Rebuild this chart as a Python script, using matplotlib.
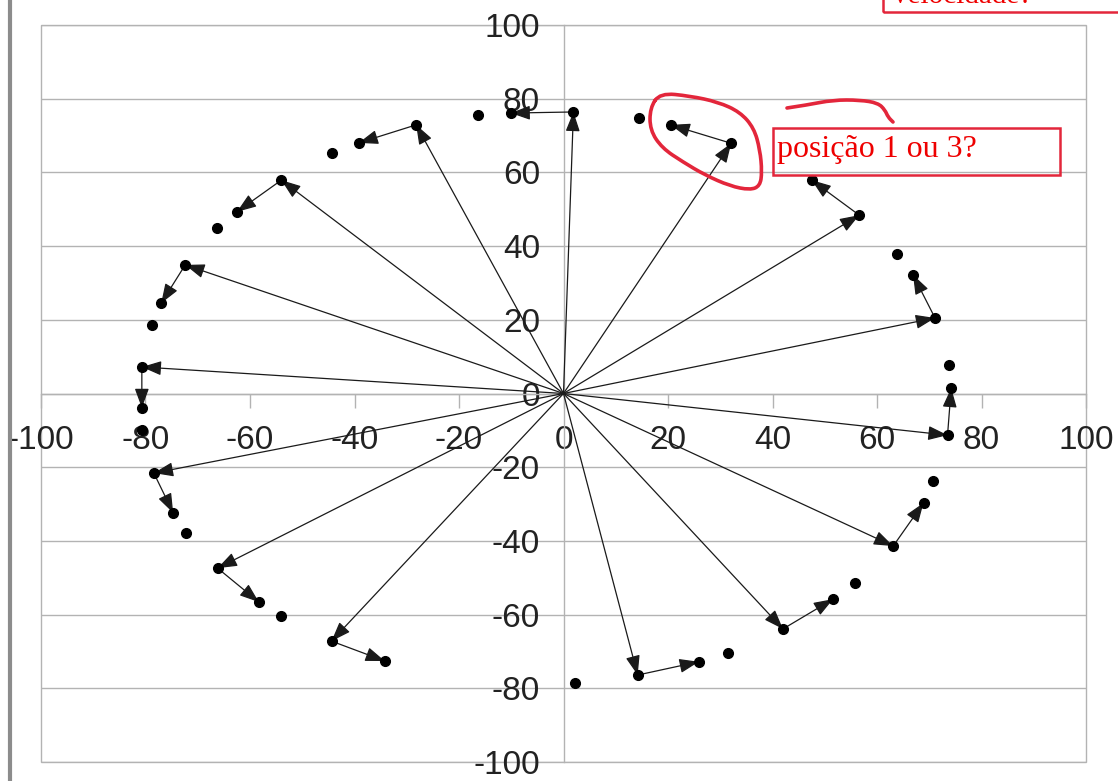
import numpy as np
import matplotlib
matplotlib.use("Agg")
import matplotlib.pyplot as plt
from matplotlib.patches import Rectangle, PathPatch
from matplotlib.path import Path
from matplotlib.lines import Line2D

# position vectors (tip of the arrows drawn from the origin)
pos_x = [73.5, 71.1, 56.6, 32.1, 1.9, -28.2, -54.0, -72.4, -80.7, -78.4, -66.2, -44.4, 14.2, 42.0, 63.1]
pos_y = [-11.3, 20.5, 48.4, 67.9, 76.4, 72.9, 57.9, 34.9, 7.2, -21.6, -47.4, -67.2, -76.4, -63.9, -41.4]

# next position (tip of the short "velocity" arrows)
vel_x = [74.2, 66.9, 47.5, 20.5, -10.1, -39.2, -62.5, -77.0, -80.7, -74.7, -58.3, -34.2, 25.9, 51.6, 68.9]
vel_y = [1.5, 32.2, 57.9, 72.9, 76.1, 68.0, 49.3, 24.5, -3.9, -32.4, -56.6, -72.6, -72.8, -55.8, -29.7]

# remaining orbit points
extra_x = [73.8, 63.8, 14.4, -16.4, -44.4, -66.3, -78.8, -80.7, -72.2, -54.0, 2.2, 31.5, 55.8, 70.7]
extra_y = [7.7, 37.9, 74.7, 75.6, 65.2, 44.9, 18.6, -9.9, -37.9, -60.4, -78.6, -70.4, -51.4, -23.7]

ticks = [-100, -80, -60, -40, -20, 0, 20, 40, 60, 80, 100]

W, H = 1118, 781
fig = plt.figure(figsize=(W / 100, H / 100), dpi=100)
ax = fig.add_axes([41 / W, 1 - 762 / H, (1086 - 41) / W, (762 - 25) / H])

grid_c = '#b3b3b3'
ax.set_xlim(-100, 100)
ax.set_ylim(-100, 100)
ax.set_xticks(ticks)
ax.set_yticks(ticks)
ax.set_xticklabels([str(t) for t in ticks])
ax.set_yticklabels([str(t) for t in ticks])

for s in ['top', 'right']:
    ax.spines[s].set_visible(False)
ax.spines['left'].set_position(('data', 0))
ax.spines['bottom'].set_position(('data', 0))
for s in ['left', 'bottom']:
    ax.spines[s].set_color(grid_c)
    ax.spines[s].set_linewidth(1.0)
ax.add_patch(Rectangle((0, 0), 1, 1, transform=ax.transAxes, fill=False,
                       ec=grid_c, lw=1.0, clip_on=False, zorder=0.5))

ax.yaxis.grid(True, color=grid_c, lw=1.0, zorder=0)
ax.set_axisbelow(True)
ax.tick_params(axis='x', direction='out', length=10, width=1.0, color=grid_c,
               pad=13, labelsize=24, labelcolor='#222222')
ax.tick_params(axis='y', length=0, pad=17, labelsize=24, labelcolor='#222222')
for lab in ax.get_xticklabels() + ax.get_yticklabels():
    lab.set_fontfamily('Liberation Sans')

arrow_kw = dict(arrowstyle='-|>,head_length=0.6,head_width=0.22', color='#1a1a1a',
                lw=0.9, shrinkA=0, shrinkB=0, mutation_scale=20)

# arrows from the origin
for x, y in zip(pos_x, pos_y):
    ax.annotate('', xy=(x, y), xytext=(0, 0), arrowprops=arrow_kw, zorder=3)

# short arrows between consecutive positions
for x0, y0, x1, y1 in zip(pos_x, pos_y, vel_x, vel_y):
    ax.annotate('', xy=(x1, y1), xytext=(x0, y0), arrowprops=arrow_kw, zorder=3)

ax.plot(pos_x + vel_x + extra_x, pos_y + vel_y + extra_y, 'o', color='black',
        markersize=7, zorder=4, clip_on=False)

# ---- hand-made annotations on top of the screenshot ----
red = '#e3263b'

def px(x, y):
    return (x / W, 1 - y / H)

# window edge on the left
fig.add_artist(Line2D([9.5 / W, 9.5 / W], [0, 1], color='#8c8c8c', lw=3, transform=fig.transFigure))

# drawn loop around the questioned point (smooth closed curve)
loop = [(660, 93), (690, 96), (718, 102), (740, 112), (754, 128), (760, 150), (762, 172),
        (760, 186), (750, 190), (730, 186), (705, 175), (683, 162), (662, 148),
        (650, 130), (650, 108)]
n = len(loop)
mids = [((loop[i][0] + loop[(i + 1) % n][0]) / 2, (loop[i][1] + loop[(i + 1) % n][1]) / 2) for i in range(n)]
verts = [px(*mids[-1])]
codes = [Path.MOVETO]
for i in range(n):
    verts += [px(*loop[i]), px(*mids[i])]
    codes += [Path.CURVE3, Path.CURVE3]
fig.add_artist(PathPatch(Path(verts, codes), fill=False, ec=red, lw=2.6,
                         transform=fig.transFigure, capstyle='round', joinstyle='round'))

squig = [(787, 108), (807, 105), (833, 100), (860, 100), (878, 103), (885, 110), (888, 117), (893, 122)]
sv = [px(*squig[0])]
sc = [Path.MOVETO]
for i in range(1, len(squig) - 1):
    sv += [px(*squig[i]), px((squig[i][0] + squig[i + 1][0]) / 2, (squig[i][1] + squig[i + 1][1]) / 2)]
    sc += [Path.CURVE3, Path.CURVE3]
sv.append(px(*squig[-1]))
sc.append(Path.LINETO)
fig.add_artist(PathPatch(Path(sv, sc), fill=False, ec=red, lw=2.6,
                         transform=fig.transFigure, capstyle='round'))

# text boxes
fig.add_artist(Rectangle(px(773, 175), (1060 - 773) / W, (175 - 128) / H, fill=False,
                         ec=red, lw=1.8, transform=fig.transFigure))
fig.text(777 / W, 1 - 157 / H, 'posição 1 ou 3?', color='#ee0000', fontsize=23,
         family='Liberation Serif', va='baseline', ha='left')

fig.add_artist(Rectangle(px(883, 12), (1125 - 883) / W, 30 / H, fill=False,
                         ec=red, lw=1.8, transform=fig.transFigure, clip_on=False))
fig.text(893 / W, 1 - 3 / H, 'velocidade?', color='#ee0000', fontsize=21,
         family='Liberation Serif', va='baseline', ha='left')

fig.savefig('out.png', dpi=100)
